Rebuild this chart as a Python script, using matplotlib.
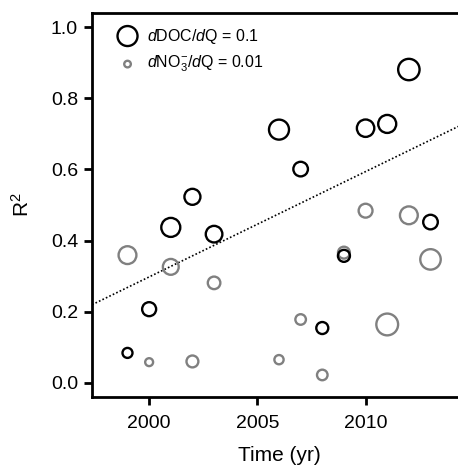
import numpy as np
import matplotlib
matplotlib.use("Agg")
import matplotlib.pyplot as plt

plt.rcParams['font.family'] = ['Liberation Sans', 'DejaVu Sans']
plt.rcParams['mathtext.fontset'] = 'custom'
plt.rcParams['mathtext.rm'] = 'Liberation Sans'
plt.rcParams['mathtext.it'] = 'Liberation Sans:italic'

# data
years = [1999, 2000, 2001, 2002, 2003, 2006, 2007, 2008, 2009, 2010, 2011, 2012, 2013]
doc_r2 = [0.084, 0.207, 0.437, 0.523, 0.418, 0.712, 0.601, 0.154, 0.357, 0.716, 0.728, 0.881, 0.452]
doc_slope = [0.05, 0.07, 0.095, 0.08, 0.083, 0.10, 0.073, 0.06, 0.06, 0.087, 0.09, 0.107, 0.073]
no3_r2 = [0.359, 0.058, 0.326, 0.060, 0.281, 0.065, 0.178, 0.022, 0.366, 0.484, 0.164, 0.471, 0.347]
no3_slope = [0.027, 0.012, 0.024, 0.018, 0.019, 0.014, 0.016, 0.016, 0.018, 0.021, 0.033, 0.027, 0.031]

# circle radius in px per unit slope
DOC_SCALE = 100.0
NO3_SCALE = 330.0
DPI = 100


def marker_area(slopes, scale):
    diam_pt = 2 * np.asarray(slopes) * scale * 72.0 / DPI
    return diam_pt ** 2


fig = plt.figure(figsize=(4.58, 4.69), dpi=DPI)
ax = fig.add_axes([92 / 458, 72 / 469, 374 / 458, 384 / 469])

ax.scatter(years, no3_r2, s=marker_area(no3_slope, NO3_SCALE), facecolors='none',
           edgecolors='#808080', linewidths=1.7, zorder=2)
ax.scatter(years, doc_r2, s=marker_area(doc_slope, DOC_SCALE), facecolors='none',
           edgecolors='black', linewidths=1.7, zorder=3)

# regression line of DOC R2 against time
coef = np.polyfit(years, doc_r2, 1)
xl = np.array([1990, 2020])
ax.plot(xl, np.polyval(coef, xl), linestyle=(0, (1, 1.3)), color='black', lw=1.2, zorder=1)

# legend
ax.scatter([0.095], [0.94], s=marker_area([0.1], DOC_SCALE), transform=ax.transAxes,
           facecolors='none', edgecolors='black', linewidths=1.7, clip_on=False)
ax.scatter([0.095], [0.867], s=marker_area([0.01], NO3_SCALE), transform=ax.transAxes,
           facecolors='none', edgecolors='#808080', linewidths=1.7, clip_on=False)
ax.text(0.147, 0.94, r'$\it{d}$DOC/$\it{d}$Q = 0.1', transform=ax.transAxes,
        fontsize=11.5, va='center', ha='left')
ax.text(0.147, 0.867, r'$\it{d}$NO$_3^{-}$/$\it{d}$Q = 0.01', transform=ax.transAxes,
        fontsize=11.5, va='center', ha='left')

ax.set_xlim(1997.36, 2014.64)
ax.set_ylim(-0.04, 1.04)
ax.set_xticks([2000, 2005, 2010])
ax.set_yticks([0.0, 0.2, 0.4, 0.6, 0.8, 1.0])
ax.set_yticklabels(['0.0', '0.2', '0.4', '0.6', '0.8', '1.0'])
ax.tick_params(direction='out', length=6, width=2, labelsize=14)
ax.tick_params(axis='x', pad=7)
ax.tick_params(axis='y', pad=4)
for sp in ax.spines.values():
    sp.set_linewidth(2)

ax.set_xlabel('Time (yr)', fontsize=15, labelpad=10)
ax.set_ylabel('R$^2$', fontsize=15, labelpad=13)

fig.savefig('out.png', dpi=DPI)
